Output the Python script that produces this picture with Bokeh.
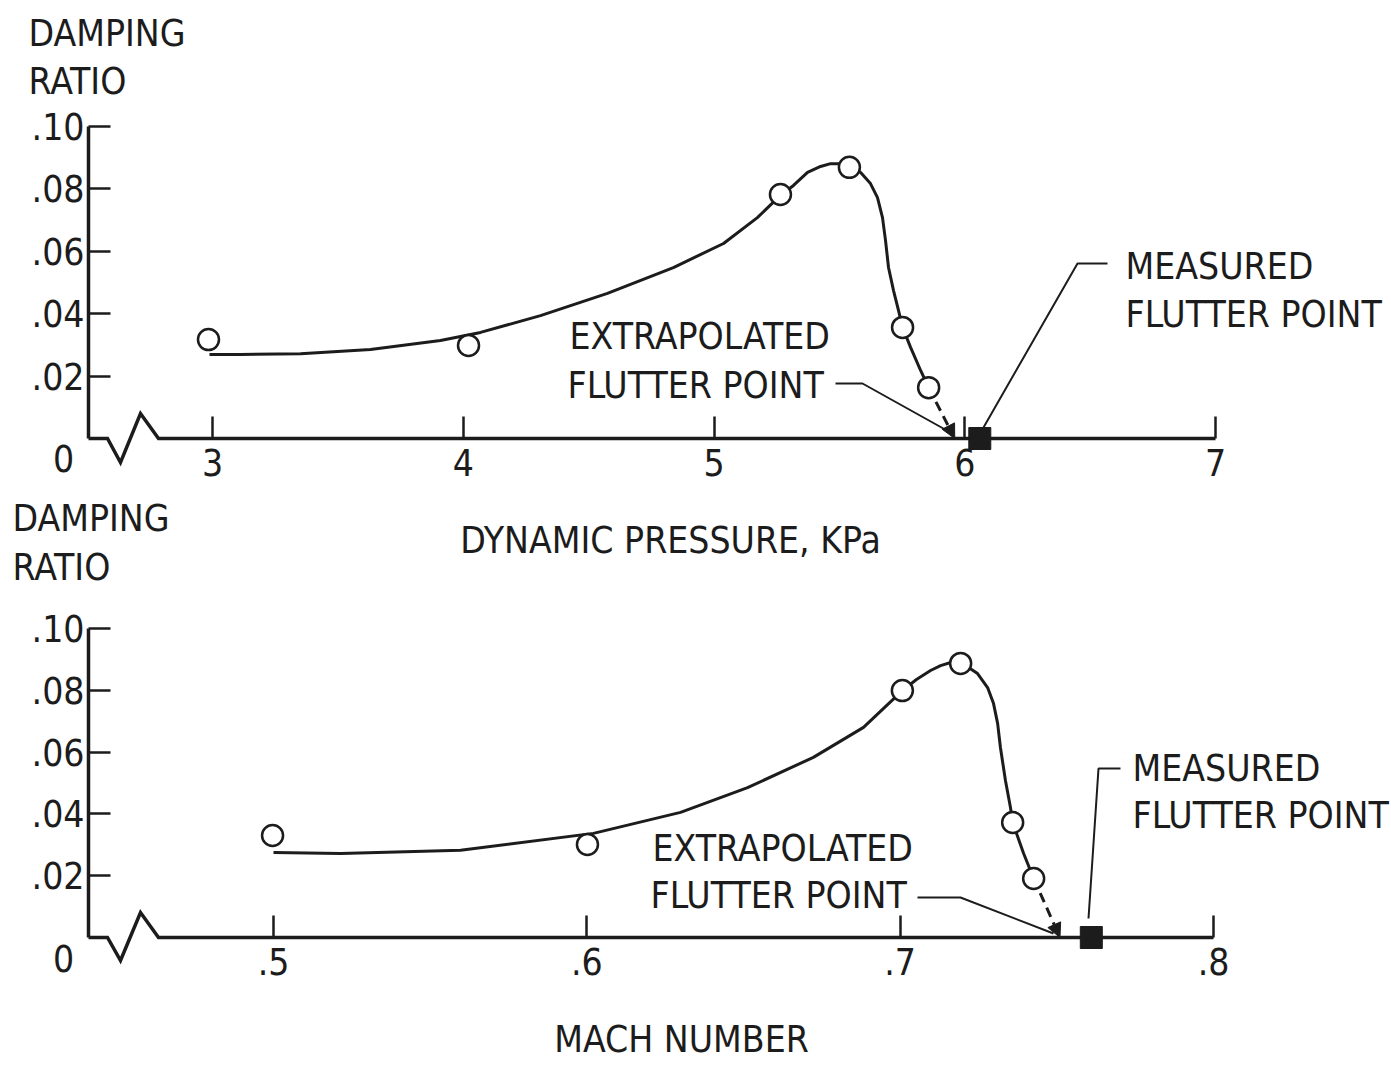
from bokeh.plotting import figure
from bokeh.models import LinearAxis, Range1d, FixedTicker, Label, Arrow, NormalHead
from bokeh.embed import file_html
from bokeh.resources import INLINE

# ---------------- data ----------------
damping_ticks = [0.02, 0.04, 0.06, 0.08, 0.10]
damping_tick_labels = [".02", ".04", ".06", ".08", ".10"]
pressure_ticks = [3, 4, 5, 6, 7]
pressure_tick_labels = ["3", "4", "5", "6", "7"]
mach_ticks = [0.5, 0.6, 0.7, 0.8]
mach_tick_labels = [".5", ".6", ".7", ".8"]

# upper panel: damping ratio vs dynamic pressure (kPa)
pressure_test = [2.984, 4.021, 5.265, 5.540, 5.752, 5.856]
pressure_damping = [0.0317, 0.0298, 0.0782, 0.0869, 0.0356, 0.0163]
pressure_fair_x = [2.988, 3.112, 3.351, 3.630, 3.909, 4.069, 4.308, 4.575, 4.838,
                   5.038, 5.173, 5.265, 5.317, 5.373, 5.425, 5.465, 5.504, 5.536,
                   5.584, 5.624, 5.652, 5.672, 5.684, 5.696, 5.716, 5.736, 5.752,
                   5.784, 5.824, 5.856]
pressure_fair_y = [0.0269, 0.0269, 0.0272, 0.0285, 0.0314, 0.0340, 0.0394, 0.0465,
                   0.0548, 0.0625, 0.0708, 0.0779, 0.0811, 0.0853, 0.0872, 0.0881,
                   0.0881, 0.0869, 0.0853, 0.0817, 0.0772, 0.0708, 0.0635, 0.0548,
                   0.0474, 0.0410, 0.0356, 0.0292, 0.0218, 0.0163]
pressure_extrapolated = 5.96
pressure_measured = 6.06

# lower panel: damping ratio vs Mach number
mach_test = [0.4997, 0.6002, 0.7007, 0.7193, 0.7359, 0.7426]
mach_damping = [0.0330, 0.0301, 0.0799, 0.0887, 0.0372, 0.0191]
mach_fair_x = [0.5000, 0.5214, 0.5597, 0.6021, 0.6299, 0.6513, 0.6723, 0.6883,
               0.7007, 0.7052, 0.7097, 0.7129, 0.7161, 0.7199, 0.7247, 0.7279,
               0.7298, 0.7311, 0.7320, 0.7336, 0.7352, 0.7359, 0.7394, 0.7426]
mach_fair_y = [0.0275, 0.0272, 0.0282, 0.0337, 0.0405, 0.0485, 0.0583, 0.0680,
               0.0799, 0.0835, 0.0864, 0.0880, 0.0890, 0.0887, 0.0854, 0.0809,
               0.0757, 0.0693, 0.0615, 0.0508, 0.0421, 0.0372, 0.0272, 0.0191]
mach_extrapolated = 0.751
mach_measured = 0.761

# ---------------- layout / style ----------------
W, H = 1391, 1068
OX, OY = 0, 0
FONT = "DejaVu Sans Condensed, Roboto, sans-serif"
FS = "37px"
INK = "#1c1c1c"


def axis_map(v0, p0, v1, p1):
    k = (v1 - v0) / (p1 - p0)
    return lambda px: v0 + (px - p0) * k


tx = axis_map(3, 212, 7, 1215)
ty = axis_map(0, 438, 0.1, 126)
bx = axis_map(0.5, 273, 0.8, 1213)
by = axis_map(0, 937, 0.1, 628)

p = figure(width=W, height=H,
           x_range=Range1d(tx(OX), tx(OX + W)),
           y_range=Range1d(ty(OY + H), ty(OY)),
           x_axis_type=None, y_axis_type=None,
           toolbar_location=None, output_backend="svg",
           min_border=0, outline_line_color=None,
           background_fill_color="white", border_fill_color="white")
p.extra_x_ranges = {"mach": Range1d(bx(OX), bx(OX + W))}
p.extra_y_ranges = {"bot": Range1d(by(OY + H), by(OY))}


def style_axis(ax):
    ax.axis_line_width = 3.5
    ax.axis_line_color = INK
    ax.major_tick_line_width = 2.5
    ax.major_tick_line_color = INK
    ax.major_tick_in = 22
    ax.major_tick_out = 0
    ax.minor_tick_line_color = None
    ax.major_label_text_font = FONT
    ax.major_label_text_font_size = FS
    ax.major_label_text_color = INK
    ax.axis_label_text_font = FONT
    ax.axis_label_text_font_size = FS
    ax.axis_label_text_font_style = "normal"
    ax.axis_label_text_color = INK


panels = [
    dict(xr="default", yr="default", fx=tx, fy=ty,
         xt=pressure_ticks, xl=pressure_tick_labels, xend=7, xlab="DYNAMIC PRESSURE, KPa",
         lab_left=125, lab_off=40,
         tx_=pressure_test, ty_=pressure_damping, cx=pressure_fair_x, cy=pressure_fair_y,
         ext=pressure_extrapolated, meas=pressure_measured,
         damp=(28, 33, 81), meas_lab=(1125, 266, 314), ext_lab=(569, 567, 336, 385),
         ext_lead=[(835, 383), (862, 383), (950, 432)],
         meas_lead=[(983, 427), (1077, 263), (1107, 263)], zero=458, zz=(438, 462, 413)),
    dict(xr="mach", yr="bot", fx=bx, fy=by,
         xt=mach_ticks, xl=mach_tick_labels, xend=0.8, xlab="MACH NUMBER",
         lab_left=149, lab_off=40,
         tx_=mach_test, ty_=mach_damping, cx=mach_fair_x, cy=mach_fair_y,
         ext=mach_extrapolated, meas=mach_measured,
         damp=(12, 518, 567), meas_lab=(1132, 768, 815), ext_lab=(652, 650, 848, 895),
         ext_lead=[(917, 897), (960, 897), (1053, 933)],
         meas_lead=[(1088, 918), (1098, 768), (1120, 768)], zero=958, zz=(937, 960, 912)),
]

for P in panels:
    fx, fy, xr, yr = P["fx"], P["fy"], P["xr"], P["yr"]
    rn = dict(x_range_name=xr, y_range_name=yr)

    ya = LinearAxis(fixed_location=fx(88), bounds=(0, 0.1),
                    ticker=FixedTicker(ticks=damping_ticks),
                    major_label_overrides=dict(zip(damping_ticks, damping_tick_labels)),
                    major_label_standoff=4, **rn)
    style_axis(ya)
    p.add_layout(ya, "left")

    xa = LinearAxis(fixed_location=0, bounds=(fx(P["lab_left"]), P["xend"]),
                    ticker=FixedTicker(ticks=P["xt"]),
                    major_label_overrides=dict(zip(P["xt"], P["xl"])),
                    major_label_standoff=10, axis_label=P["xlab"],
                    axis_label_standoff=P["lab_off"], **rn)
    style_axis(xa)
    xa.axis_line_color = None
    p.add_layout(xa, "below")

    # base line with axis break
    b0, b1, b2 = P["zz"]
    p.line([fx(88), fx(107), fx(120), fx(140), fx(158), P["xend"]],
           [0, 0, fy(b1), fy(b2), 0, 0],
           line_width=3.5, line_color=INK, line_join="miter", **rn)

    # extrapolation arrow (under the markers)
    arr = Arrow(x_start=P["tx_"][-1], y_start=P["ty_"][-1], x_end=P["ext"], y_end=0,
                line_dash="10 6", line_width=3, line_color=INK, level="underlay",
                end=NormalHead(size=14, fill_color=INK, line_color=INK, line_width=1),
                **rn)
    p.add_layout(arr)

    # faired curve
    p.line(P["cx"], P["cy"], line_width=3, line_color=INK, line_join="round", **rn)
    # test points
    p.scatter(P["tx_"], P["ty_"], marker="circle", size=21, fill_color="white",
              line_color=INK, line_width=2.5, **rn)
    # measured flutter point
    p.scatter([P["meas"]], [0], marker="square", size=22, fill_color=INK,
              line_color=INK, **rn)

    # leaders
    for lead in (P["ext_lead"], P["meas_lead"]):
        p.line([fx(a) for a, _ in lead], [fy(b) for _, b in lead],
               line_width=2, line_color=INK, **rn)

    def lab(text, x, y, align="left", base="middle"):
        p.add_layout(Label(x=x, y=y, text=text, text_font=FONT, text_font_size=FS,
                           text_color=INK, text_align=align, text_baseline=base, **rn))

    dx, d1, d2 = P["damp"]
    lab("DAMPING", fx(dx), fy(d1))
    lab("RATIO", fx(dx), fy(d2))
    mx, m1, m2 = P["meas_lab"]
    lab("MEASURED", fx(mx), fy(m1))
    lab("FLUTTER POINT", fx(mx), fy(m2))
    ex1, ex2, e1, e2 = P["ext_lab"]
    lab("EXTRAPOLATED", fx(ex1), fy(e1))
    lab("FLUTTER POINT", fx(ex2), fy(e2))
    lab("0", fx(63), fy(P["zero"]), align="center")

open("out.html", "w").write(file_html(p, INLINE))
